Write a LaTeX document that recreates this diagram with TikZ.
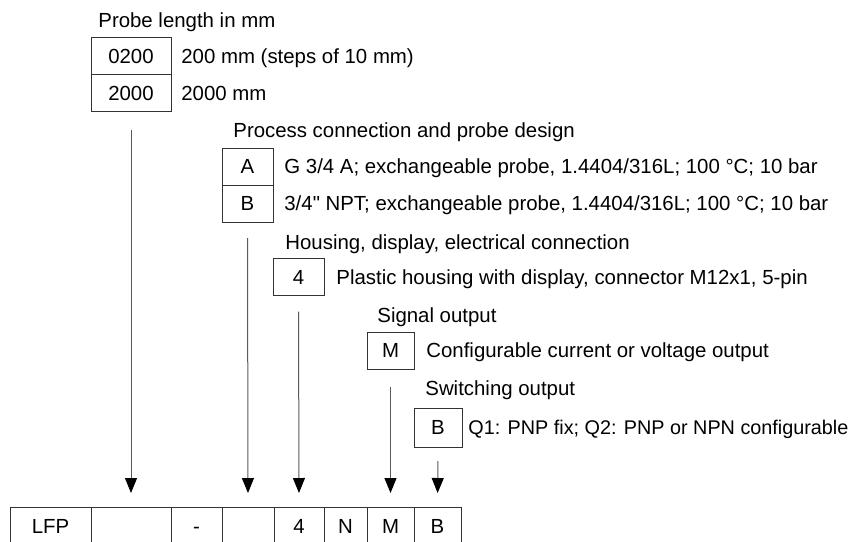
\documentclass[tikz,border=0pt]{standalone}
\usepackage{fontspec}
\setmainfont{Liberation Sans}
\newfontfamily\plainsans{Liberation Sans}
\usetikzlibrary{arrows.meta, positioning}
\definecolor{cgrey}{HTML}{5A5A5A}
\definecolor{cline}{HTML}{333333}
\tikzset{
  every picture/.style={line width=0.8pt},
  codebox/.style={draw=cline, line width=0.8pt, minimum height=37pt, inner sep=0pt, outer sep=0pt, text height=14pt, text depth=0pt},
  arrow/.style={-{Triangle[length=15pt, width=12pt, color=black]}, draw=cgrey, line width=1pt},
  title/.style={anchor=west, inner sep=0pt, text height=14pt, text depth=0pt},
  note/.style={inner sep=0pt, text height=14pt, text depth=0pt},
}

\begin{document}
\begin{tikzpicture}[
    x=1pt, y=-1pt,
    every node/.append style={font=\fontsize{20.4}{24}\selectfont},
    feed/.style={arrow, shorten <=17pt, shorten >=14pt},
  ]
  \useasboundingbox (0,0) rectangle (853,541);

  % probe length
  \node[title] (hlen) at (98,20) {Probe length in mm};
  \node[codebox, minimum width=80pt] (l0200) at (131,56) {0200};
  \node[codebox, minimum width=80pt, below=0pt of l0200] (l2000) {2000};
  \node[note, right=10pt of l0200] (dl0200) {200 mm (steps of 10 mm)};
  \node[note, right=10pt of l2000] (dl2000) {2000 mm};

  % process connection
  \node[title] (hproc) at (233,130) {Process connection and probe design};
  \node[codebox, minimum width=51pt] (pA) at (247.5,166.5) {A};
  \node[codebox, minimum width=51pt, below=0pt of pA] (pB) {B};
  \node[note, right=11pt of pA] (dpA) {G 3/4 A; exchangeable probe, 1.4404/316L; 100 °C; 10 bar};
  \node[note, right=11pt of pB] (dpB) {3/4{\plainsans"} NPT; exchangeable probe, 1.4404/316L; 100 °C; 10 bar};

  % housing
  \node[title] (hhous) at (285,242) {Housing, display, electrical connection};
  \node[codebox, minimum width=51pt] (h4) at (298.5,277) {4};
  \node[note, right=12pt of h4] (dh4) {Plastic housing with display, connector M12x1, 5-pin};

  % signal output
  \node[title] (hsig) at (377,315) {Signal output};
  \node[codebox, minimum width=47pt] (sM) at (390.5,350.5) {M};
  \node[note, right=12pt of sM] (dsM) {Configurable current or voltage output};

  % switching output
  \node[title] (hsw) at (425,388) {Switching output};
  \node[codebox, minimum width=48pt, minimum height=39pt] (wB) at (438,427.5) {B};
  \node[note, right=6pt of wB, font=\fontsize{19.8}{24}\selectfont] (dwB) {Q1: PNP fix; Q2: PNP or NPN configurable};

  % order code
  \node[codebox, minimum width=81pt, minimum height=38pt] (c1) at (50.5,526) {LFP};
  \node[codebox, minimum width=80pt, minimum height=38pt] (c2) at (131,526) {};
  \node[codebox, minimum width=51pt, minimum height=38pt] (c3) at (196.5,526) {-};
  \node[codebox, minimum width=52pt, minimum height=38pt] (c4) at (248,526) {};
  \node[codebox, minimum width=50pt, minimum height=38pt] (c5) at (299,526) {4};
  \node[codebox, minimum width=43pt, minimum height=38pt] (c6) at (345.5,526) {N};
  \node[codebox, minimum width=47pt, minimum height=38pt] (c7) at (390.5,526) {M};
  \node[codebox, minimum width=47pt, minimum height=38pt] (c8) at (437.5,526) {B};

  \draw[feed, shorten <=18pt] (l2000.south) -- (c2.north);
  \draw[feed, shorten <=16pt] (pB.south) -- (c4.north);
  \draw[feed, shorten <=16pt] (h4.south) -- (c5.north);
  \draw[feed, shorten <=18pt] (sM.south) -- (c7.north);
  \draw[feed, shorten <=14pt] (wB.south) -- (c8.north);
\end{tikzpicture}
\end{document}
